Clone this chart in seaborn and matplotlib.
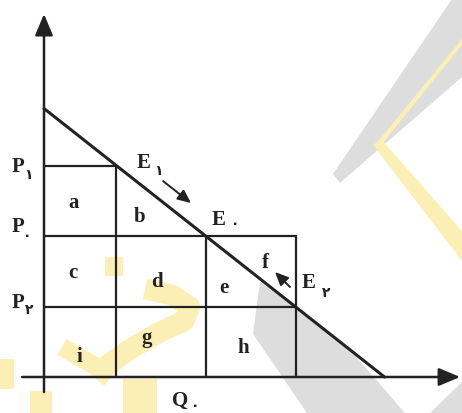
import matplotlib
matplotlib.use("Agg")
import pandas as pd
import seaborn as sns
import matplotlib.pyplot as plt
from matplotlib.patches import Polygon
from matplotlib.transforms import Affine2D

# levels (1 unit ~ 30 px)
q_levels = [2.4, 5.4, 8.4]          # Q1, Q0, Q2
p_levels = [7.05, 4.7, 2.35]        # P1, P0, P2
demand_q = [0.0, 11.35]
demand_p = [8.95, 0.0]

price_subs = ["۱", "۰", "۲"]        # P1, P0, P2
eq_subs = ["۱", "۰", "۲"]           # E1, E0, E2
area_labels = ["a", "b", "c", "d", "e", "f", "g", "h", "i"]

# where the labels sit (layout only)
price_pos = [(-0.87, 6.87), (-0.87, 4.87), (-0.87, 2.33)]
price_sub_pos = [(-0.52, 6.62), (-0.55, 4.6), (-0.5, 2.15)]
eq_pos = [(3.33, 7.0), (5.83, 5.1), (8.83, 3.0)]
eq_sub_pos = [(3.82, 6.78), (6.37, 5.0), (9.4, 2.7)]
area_pos = [(0.97, 5.67), (3.17, 5.2), (0.97, 3.33), (3.77, 3.03), (6.0, 2.83),
            (7.37, 3.67), (3.43, 1.17), (6.63, 0.83), (1.17, 0.53)]

INK = "#222222"
FONT = ["Liberation Serif", "DejaVu Sans"]
WM_GRAY = "#d2d2d2"
WM_YELLOW = "#fcefb6"

sns.set_style("white")
fig = plt.figure(figsize=(4.62, 4.14), dpi=100)
ax = fig.add_axes([0, 0, 1, 1])
ax.set_xlim(-44 / 30, 418 / 30)
ax.set_ylim(-36 / 30, 378 / 30)
ax.axis("off")

# faint watermark in the background (pixel coords, top-left origin)
px = Affine2D().scale(1 / 462, -1 / 414).translate(0, 1) + fig.transFigure
wm_gray = [[(333, 175), (340, 184), (462, 78), (462, 0), (452, 0)],
           [(260, 283), (296, 308), (345, 345), (405, 414), (307, 414), (253, 335)],
           [(462, 383), (462, 414), (430, 414)]]
wm_yellow = [[(373, 146), (381, 140), (462, 232), (462, 262)],
             [(375, 146), (462, 40), (462, 46), (378, 150)],
             [(105, 258), (123, 258), (123, 277), (105, 277)],
             [(0, 360), (14, 360), (14, 390), (0, 390)],
             [(30, 392), (52, 392), (52, 414), (30, 414)],
             [(123, 380), (157, 380), (157, 414), (123, 414)]]
for pts in wm_gray:
    ax.add_patch(Polygon(pts, closed=True, transform=px, facecolor=WM_GRAY,
                         edgecolor="none", alpha=0.75, zorder=0))
for pts in wm_yellow:
    ax.add_patch(Polygon(pts, closed=True, transform=px, facecolor=WM_YELLOW,
                         edgecolor="none", zorder=0))
ax.plot([145, 172, 190, 184, 158, 130, 108, 96],
        [290, 296, 308, 322, 334, 350, 366, 380],
        transform=px, color=WM_YELLOW, lw=15, solid_capstyle="butt", zorder=0)
ax.plot([62, 100], [348, 370], transform=px, color=WM_YELLOW, lw=13,
        solid_capstyle="butt", zorder=0)

# axes with arrow heads
ax.annotate("", xy=(0, 12.1), xytext=(0, -0.5),
            arrowprops=dict(arrowstyle="-|>,head_length=1.0,head_width=0.42",
                            mutation_scale=13, lw=1.8, color=INK,
                            shrinkA=0, shrinkB=0), zorder=3)
ax.annotate("", xy=(13.87, 0), xytext=(-0.73, 0),
            arrowprops=dict(arrowstyle="-|>,head_length=1.0,head_width=0.42",
                            mutation_scale=13, lw=1.8, color=INK,
                            shrinkA=0, shrinkB=0), zorder=3)

# grid of rectangles
q1, q0, q2 = q_levels
p1, p0, p2 = p_levels
seg = [("p1", [0, q1], [p1, p1]), ("p0", [0, q2], [p0, p0]),
       ("p2", [0, q2], [p2, p2]), ("q1", [q1, q1], [0, p1]),
       ("q0", [q0, q0], [0, p0]), ("q2", [q2, q2], [0, p0])]
rows = []
for name, xs, ys in seg:
    for x, y in zip(xs, ys):
        rows.append({"seg": name, "q": x, "p": y})
seg_df = pd.DataFrame(rows)
sns.lineplot(data=seg_df, x="q", y="p", units="seg", estimator=None,
             sort=False, color=INK, lw=1.6, ax=ax, zorder=2)

# demand line
sns.lineplot(x=demand_q, y=demand_p, color=INK, lw=2.2, ax=ax, zorder=2)

# labels
for (x, y), (sx, sy), sub in zip(price_pos, price_sub_pos, price_subs):
    ax.text(x, y, "P", family=FONT, weight="bold", fontsize=15,
            ha="center", va="baseline", color=INK)
    ax.text(sx, sy, sub, family=FONT, weight="bold", fontsize=10,
            ha="center", va="baseline", color=INK)
for (x, y), (sx, sy), sub in zip(eq_pos, eq_sub_pos, eq_subs):
    ax.text(x, y, "E", family=FONT, weight="bold", fontsize=15,
            ha="center", va="baseline", color=INK)
    ax.text(sx, sy, sub, family=FONT, weight="bold", fontsize=10,
            ha="center", va="baseline", color=INK)
ax.text(4.53, -0.92, "Q", family=FONT, weight="bold", fontsize=15,
        ha="center", va="baseline", color=INK)
ax.text(5.03, -1.08, "۰", family=FONT, weight="bold", fontsize=10,
        ha="center", va="baseline", color=INK)
for (x, y), lab in zip(area_pos, area_labels):
    ax.text(x, y, lab, family=FONT, weight="bold", fontsize=15,
            ha="center", va="baseline", color=INK)

# small movement arrows
for start, end in [((3.97, 6.53), (4.9, 5.8)), ((8.2, 3.0), (7.7, 3.5))]:
    ax.annotate("", xy=end, xytext=start,
                arrowprops=dict(arrowstyle="-|>,head_length=1.0,head_width=0.45",
                                mutation_scale=8, lw=1.4, color=INK,
                                shrinkA=0, shrinkB=0))

plt.savefig("out.png", dpi=100)
plt.close()
